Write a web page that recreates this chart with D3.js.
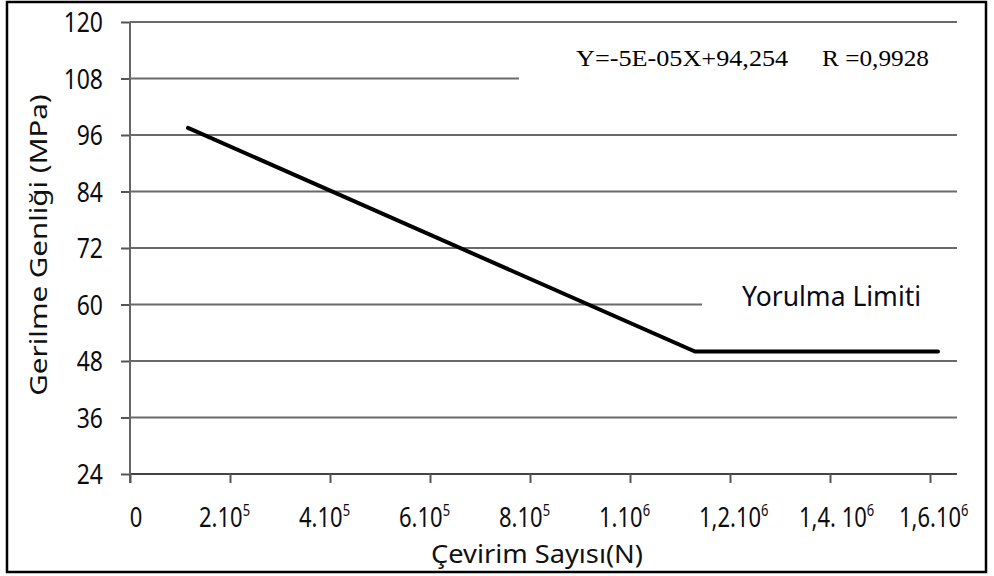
<!DOCTYPE html>
<html>
<head>
<meta charset="utf-8">
<script src="https://cdn.jsdelivr.net/npm/d3@7/dist/d3.min.js"></script>
<style>
  html, body { margin: 0; padding: 0; background: #fff; }
  svg { display: block; }
</style>
</head>
<body>
<svg id="chart" width="994" height="576"></svg>
<script>
// ---------------- data ----------------
const cycles = [116000, 1130000, 1616000];          // Çevirim Sayısı (N)
const stress = [97.5, 50, 50];                      // Gerilme Genliği (MPa)
const yTickValues = [24, 36, 48, 60, 72, 84, 96, 108, 120];
const xTickValues = [0, 200000, 400000, 600000, 800000, 1000000, 1200000, 1400000, 1600000];
const xTickBase = ["0", "2.10", "4.10", "6.10", "8.10", "1.10", "1,2.10", "1,4. 10", "1,6.10"];
const xTickExp  = ["", "5", "5", "5", "5", "6", "6", "6", "6"];
const yTitle = "Gerilme Genliği (MPa)";
const xTitle = "Çevirim Sayısı(N)";
const eqLeft = "Y=-5E-05X+94,254";
const eqRight = "R =0,9928";
const limitLabel = "Yorulma Limiti";

// ---------------- layout ----------------
const svg = d3.select("#chart");
const sans = "'Noto Sans', 'Open Sans', sans-serif";
const serif = "'Liberation Serif', 'DejaVu Serif', serif";
const x = d3.scaleLinear().domain([0, 1600000]).range([130, 930]);
const y = d3.scaleLinear().domain([24, 120]).range([474, 22]);
const gridRight = 957;

// frame
svg.append("rect").attr("x", 7).attr("y", 2).attr("width", 979).attr("height", 570)
  .attr("fill", "#fff").attr("stroke", "#000").attr("stroke-width", 2.5);

// horizontal gridlines (incl. x-axis line at 24)
svg.append("g").selectAll("line").data(yTickValues).join("line")
  .attr("x1", x(0)).attr("x2", gridRight)
  .attr("y1", d => y(d)).attr("y2", d => y(d))
  .attr("stroke", d => d === 24 ? "#444" : "#6a6a6a")
  .attr("stroke-width", 2);

// white boxes of the text frames covering gridlines
svg.append("rect").attr("x", 519).attr("y", 40).attr("width", 440).attr("height", 55).attr("fill", "#fff");
svg.append("rect").attr("x", 702).attr("y", 282).attr("width", 256).attr("height", 42).attr("fill", "#fff");

// y axis (ticks) with library axis
const yAxis = svg.append("g").attr("transform", `translate(${x(0)},0)`)
  .call(d3.axisLeft(y).tickValues(yTickValues).tickSize(9).tickFormat(""));
yAxis.select(".domain").remove();
yAxis.selectAll(".tick line").attr("stroke", "#555").attr("stroke-width", 2);

// y axis vertical line
svg.append("line").attr("x1", x(0)).attr("x2", x(0))
  .attr("y1", y(120)).attr("y2", y(24) + 9)
  .attr("stroke", "#666").attr("stroke-width", 2);

// y tick labels
svg.append("g").selectAll("text").data(yTickValues).join("text")
  .attr("transform", d => `translate(103,${y(d)}) scale(1.02,1.25)`)
  .attr("dy", "0.36em")
  .attr("text-anchor", "end")
  .attr("font-family", sans).attr("font-size", 22.5).attr("fill", "#0d0d0d")
  .text(d => d);

// x axis ticks
const xAxis = svg.append("g").attr("transform", `translate(0,${y(24)})`)
  .call(d3.axisBottom(x).tickValues(xTickValues).tickSize(9).tickSizeOuter(0).tickFormat(""));
xAxis.select(".domain").remove();
xAxis.selectAll(".tick line").attr("stroke", "#555").attr("stroke-width", 2);

// x tick labels
const xl = svg.append("g").selectAll("text").data(xTickValues).join("text")
  .attr("transform", (d, i) => `translate(${i === 0 ? x(d) + 6 : x(d) - 31},527) scale(1,1.2)`)
  .attr("text-anchor", (d, i) => i === 0 ? "middle" : "start")
  .attr("font-family", sans).attr("font-size", 22).attr("fill", "#0d0d0d");
xl.append("tspan").text((d, i) => xTickBase[i]);
xl.append("tspan").attr("dy", -9).attr("font-size", 13).text((d, i) => xTickExp[i]);

// data line
const line = d3.line().x(d => x(d[0])).y(d => y(d[1]));
svg.append("path")
  .datum(cycles.map((c, i) => [c, stress[i]]))
  .attr("d", line)
  .attr("fill", "none").attr("stroke", "#000").attr("stroke-width", 4)
  .attr("stroke-linejoin", "miter").attr("stroke-linecap", "round");

// equation
svg.append("text").attr("transform", "translate(576,66) scale(1.14,1.02)")
  .attr("font-family", serif).attr("font-size", 23).attr("fill", "#000").text(eqLeft);
svg.append("text").attr("transform", "translate(822,66) scale(1.1,1.02)")
  .attr("font-family", serif).attr("font-size", 23).attr("fill", "#000").text(eqRight);

// fatigue limit label
svg.append("text").attr("x", 742).attr("y", 306)
  .attr("font-family", sans).attr("font-size", 26.5).attr("fill", "#0a0a1a").text(limitLabel);

// axis titles
svg.append("text").attr("transform", "translate(47,245) rotate(-90) scale(1.23,1)")
  .attr("text-anchor", "middle")
  .attr("font-family", sans).attr("font-size", 24).attr("fill", "#111").text(yTitle);
svg.append("text").attr("transform", "translate(537,563) scale(1.09,1)")
  .attr("text-anchor", "middle")
  .attr("font-family", sans).attr("font-size", 25).attr("fill", "#111").text(xTitle);
</script>
</body>
</html>
